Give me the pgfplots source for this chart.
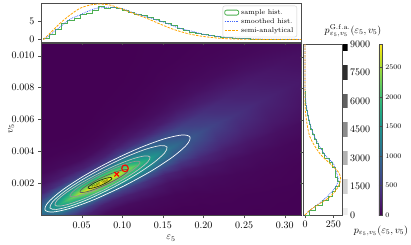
\documentclass[border=0pt]{standalone}
\usepackage{pgfplots}
\usepackage{pgfplotstable}
\pgfplotsset{compat=1.18}
\definecolor{vir0}{rgb}{0.267,0.005,0.329}
\definecolor{hgreen}{RGB}{76,175,80}
\definecolor{hblue}{RGB}{70,105,250}
\definecolor{horange}{RGB}{255,165,0}
\pgfplotsset{every axis/.append style={axis line style={black!70}, tick style={black!70}},
  boxlegend/.style={legend image code/.code={\draw[##1] (0pt,-2.5pt) rectangle (14pt,2.5pt);}},
  linelegend/.style={legend image code/.code={\draw[##1] (0pt,0pt) -- (14pt,0pt);}}}
\pgfplotstableread{
x y z c
-0.09412 0.003486 0 0
-0.08182 0.002256 0 2
-0.07260 0.001334 0 7.5
-0.06522 0.000596 0 22.5
-0.06030 0.000104 0 50
-0.05661 -0.000265 0 100
-0.05353 -0.000573 0 165
-0.04800 -0.001126 0 250
-0.04247 -0.001679 0 165
-0.03939 -0.001987 0 100
-0.03570 -0.002356 0 50
-0.03078 -0.002848 0 22.5
-0.02340 -0.003586 0 7.5
-0.01418 -0.004508 0 2
-0.00188 -0.005738 0 0
-0.06253 0.003779 0 0
-0.05135 0.002661 0 4.8
-0.04296 0.001822 0 18
-0.03625 0.001151 0 54
-0.03178 0.000704 0 120
-0.02843 0.000369 0 240
-0.02563 0.000089 0 396
-0.02060 -0.000414 0 600
-0.01557 -0.000917 0 396
-0.01277 -0.001197 0 240
-0.00942 -0.001532 0 120
-0.00495 -0.001979 0 54
0.00176 -0.002650 0 18
0.01015 -0.003489 0 4.8
0.02133 -0.004607 0 0
-0.04069 0.004082 0 0
-0.03007 0.003020 0 8
-0.02210 0.002223 0 30
-0.01573 0.001586 0 90
-0.01148 0.001161 0 200
-0.00830 0.000843 0 400
-0.00564 0.000577 0 660
-0.00086 0.000099 0 1000
0.00392 -0.000379 0 660
0.00658 -0.000645 0 400
0.00976 -0.000963 0 200
0.01401 -0.001388 0 90
0.02038 -0.002025 0 30
0.02835 -0.002822 0 8
0.03897 -0.003884 0 0
-0.01995 0.004357 0 0
-0.00989 0.003351 0 12.8
-0.00234 0.002596 0 48
0.00369 0.001993 0 144
0.00772 0.001590 0 320
0.01074 0.001288 0 640
0.01325 0.001037 0 1056
0.01778 0.000584 0 1600
0.02231 0.000131 0 1056
0.02482 -0.000120 0 640
0.02784 -0.000422 0 320
0.03187 -0.000825 0 144
0.03790 -0.001428 0 48
0.04545 -0.002183 0 12.8
0.05551 -0.003189 0 0
-0.00141 0.004576 0 0
0.00810 0.003625 0 17.2
0.01522 0.002913 0 64.5
0.02092 0.002343 0 193.5
0.02473 0.001962 0 430
0.02758 0.001677 0 860
0.02995 0.001440 0 1419
0.03423 0.001012 0 2150
0.03851 0.000584 0 1419
0.04088 0.000347 0 860
0.04373 0.000062 0 430
0.04754 -0.000319 0 193.5
0.05324 -0.000889 0 64.5
0.06036 -0.001601 0 17.2
0.06987 -0.002552 0 0
0.01714 0.004793 0 0
0.02608 0.003899 0 20.8
0.03279 0.003228 0 78
0.03816 0.002691 0 234
0.04174 0.002333 0 520
0.04442 0.002065 0 1040
0.04666 0.001841 0 1716
0.05068 0.001439 0 2600
0.05470 0.001037 0 1716
0.05694 0.000813 0 1040
0.05962 0.000545 0 520
0.06320 0.000187 0 234
0.06857 -0.000350 0 78
0.07528 -0.001021 0 20.8
0.08422 -0.001915 0 0
0.03239 0.004926 0 0
0.04078 0.004087 0 22.8
0.04707 0.003458 0 85.5
0.05210 0.002955 0 256.5
0.05545 0.002620 0 570
0.05797 0.002368 0 1140
0.06007 0.002158 0 1881
0.06384 0.001781 0 2850
0.06761 0.001404 0 1881
0.06971 0.001194 0 1140
0.07223 0.000942 0 570
0.07558 0.000607 0 256.5
0.08061 0.000104 0 85.5
0.08690 -0.000525 0 22.8
0.09529 -0.001364 0 0
0.04555 0.005269 0 0
0.05394 0.004430 0 23.2
0.06023 0.003801 0 87
0.06526 0.003298 0 261
0.06861 0.002963 0 580
0.07113 0.002711 0 1160
0.07323 0.002501 0 1914
0.07700 0.002124 0 2900
0.08077 0.001747 0 1914
0.08287 0.001537 0 1160
0.08539 0.001285 0 580
0.08874 0.000950 0 261
0.09377 0.000447 0 87
0.10006 -0.000182 0 23.2
0.10845 -0.001021 0 0
0.05663 0.005819 0 0
0.06557 0.004925 0 22
0.07228 0.004254 0 82.5
0.07765 0.003717 0 247.5
0.08123 0.003359 0 550
0.08391 0.003091 0 1100
0.08615 0.002867 0 1815
0.09017 0.002465 0 2750
0.09419 0.002063 0 1815
0.09643 0.001839 0 1100
0.09911 0.001571 0 550
0.10269 0.001213 0 247.5
0.10806 0.000676 0 82.5
0.11477 0.000005 0 22
0.12371 -0.000889 0 0
0.06778 0.006637 0 0
0.07784 0.005631 0 19.2
0.08539 0.004876 0 72
0.09142 0.004273 0 216
0.09545 0.003870 0 480
0.09847 0.003568 0 960
0.10098 0.003317 0 1584
0.10551 0.002864 0 2400
0.11004 0.002411 0 1584
0.11255 0.002160 0 960
0.11557 0.001858 0 480
0.11960 0.001455 0 216
0.12563 0.000852 0 72
0.13318 0.000097 0 19.2
0.14324 -0.000909 0 0
0.08004 0.007485 0 0
0.09122 0.006367 0 15.6
0.09961 0.005528 0 58.5
0.10632 0.004857 0 175.5
0.11079 0.004410 0 390
0.11414 0.004075 0 780
0.11694 0.003795 0 1287
0.12197 0.003292 0 1950
0.12700 0.002789 0 1287
0.12980 0.002509 0 780
0.13315 0.002174 0 390
0.13762 0.001727 0 175.5
0.14433 0.001056 0 58.5
0.15272 0.000217 0 15.6
0.16390 -0.000901 0 0
0.09448 0.008389 0 0
0.10678 0.007159 0 11.6
0.11600 0.006237 0 43.5
0.12338 0.005499 0 130.5
0.12830 0.005007 0 290
0.13199 0.004638 0 580
0.13507 0.004330 0 957
0.14060 0.003777 0 1450
0.14613 0.003224 0 957
0.14921 0.002916 0 580
0.15290 0.002547 0 290
0.15782 0.002055 0 130.5
0.16520 0.001317 0 43.5
0.17442 0.000395 0 11.6
0.18672 -0.000835 0 0
0.10584 0.009740 0 0
0.12037 0.008287 0 8.4
0.13127 0.007197 0 31.5
0.13999 0.006325 0 94.5
0.14581 0.005743 0 210
0.15017 0.005307 0 420
0.15380 0.004944 0 693
0.16034 0.004290 0 1050
0.16688 0.003636 0 693
0.17051 0.003273 0 420
0.17487 0.002837 0 210
0.18069 0.002255 0 94.5
0.18941 0.001383 0 31.5
0.20031 0.000293 0 8.4
0.21484 -0.001160 0 0
0.11520 0.011568 0 0
0.13309 0.009779 0 6.4
0.14650 0.008438 0 24
0.15724 0.007364 0 72
0.16439 0.006649 0 160
0.16976 0.006112 0 320
0.17423 0.005665 0 528
0.18228 0.004860 0 800
0.19033 0.004055 0 528
0.19480 0.003608 0 320
0.20017 0.003071 0 160
0.20732 0.002356 0 72
0.21806 0.001282 0 24
0.23147 -0.000059 0 6.4
0.24936 -0.001848 0 0
0.13004 0.013539 0 0
0.15128 0.011415 0 4.6
0.16722 0.009821 0 17.4
0.17996 0.008547 0 52.2
0.18846 0.007697 0 116
0.19483 0.007060 0 232
0.20014 0.006529 0 383
0.20970 0.005573 0 580
0.21926 0.004617 0 383
0.22457 0.004086 0 232
0.23094 0.003449 0 116
0.23944 0.002599 0 52.2
0.25218 0.001325 0 17.4
0.26812 -0.000269 0 4.6
0.28936 -0.002393 0 0
0.14487 0.015509 0 0
0.16947 0.013049 0 3.4
0.18792 0.011204 0 12.6
0.20268 0.009728 0 37.8
0.21251 0.008745 0 84
0.21989 0.008007 0 168
0.22604 0.007392 0 277
0.23711 0.006285 0 420
0.24818 0.005178 0 277
0.25433 0.004563 0 168
0.26171 0.003825 0 84
0.27154 0.002842 0 37.8
0.28630 0.001366 0 12.6
0.30475 -0.000479 0 3.4
0.32935 -0.002939 0 0
0.16519 0.017622 0 0
0.19314 0.014827 0 2.4
0.21410 0.012731 0 9
0.23087 0.011054 0 27
0.24205 0.009936 0 60
0.25043 0.009098 0 120
0.25742 0.008399 0 198
0.27000 0.007141 0 300
0.28258 0.005883 0 198
0.28957 0.005184 0 120
0.29795 0.004346 0 60
0.30913 0.003228 0 27
0.32590 0.001551 0 9
0.34686 -0.000545 0 2.4
0.37481 -0.003340 0 0
0.19100 0.019877 0 0
0.22230 0.016747 0 1.6
0.24578 0.014399 0 6
0.26456 0.012521 0 18
0.27709 0.011268 0 40
0.28648 0.010329 0 80
0.29430 0.009547 0 132
0.30839 0.008138 0 200
0.32248 0.006729 0 132
0.33030 0.005947 0 80
0.33969 0.005008 0 40
0.35222 0.003755 0 18
0.37100 0.001877 0 6
0.39448 -0.000471 0 1.6
0.42578 -0.003601 0 0
0.22647 0.021857 0 0
0.26001 0.018503 0 1
0.28517 0.015987 0 3.6
0.30529 0.013975 0 10.8
0.31871 0.012633 0 24
0.32877 0.011627 0 48
0.33716 0.010788 0 79
0.35225 0.009279 0 120
0.36734 0.007770 0 79
0.37573 0.006931 0 48
0.38579 0.005925 0 24
0.39921 0.004583 0 10.8
0.41933 0.002571 0 3.6
0.44449 0.000055 0 1
0.47803 -0.003299 0 0
}\heat
\begin{document}
\begin{tikzpicture}
\useasboundingbox (0pt,0pt) rectangle (411pt,244pt);
% ---------------- main heat map ----------------
\begin{axis}[name=main, at={(41pt,29pt)}, anchor=south west, scale only axis,
  width=260pt, height=172pt, xmin=0, xmax=0.32, ymin=0, ymax=0.0108, zmin=-1, zmax=1,
  view={0}{90}, axis on top, axis background/.style={fill=vir0},
  colormap/viridis, point meta min=0, point meta max=2900,
  scaled x ticks=false, scaled y ticks=false,
  xtick={0.05,0.1,0.15,0.2,0.25,0.3}, xticklabels={0.05,0.10,0.15,0.20,0.25,0.30},
  ytick={0.002,0.004,0.006,0.008,0.010}, yticklabels={0.002,0.004,0.006,0.008,0.010},
  tick align=outside, tick pos=left, major tick length=3pt,
  xlabel={$\varepsilon_5$}, ylabel={$v_5$},
  ylabel style={at={(axis description cs:-0.115,0.5)}, anchor=center},
  colorbar, colorbar style={at={(parent axis.south east)}, anchor=south west, xshift=69.3pt,
    scale only axis, width=3pt, height=171pt, ytick={0,500,1000,1500,2000,2500},
    yticklabel style={font=\fontsize{7}{8}\selectfont, /pgf/number format/1000 sep={}},
    major tick length=2pt, axis line style={black!70}},
]
\addplot3[surf, shader=interp, point meta=explicit, mesh/rows=19, mesh/cols=15] table[x=x, y=y, z=z, meta=c] {\heat};
% contours (G.f.a.)
\addplot[white, line width=0.7pt, smooth] coordinates {
(0.1019,0.001821) (0.0671,0.001003) (0.03654,0.000430) (0.01467,0.000187) (0.00492,0.000314) (0.00874,0.000789) (0.02559,0.001540) (0.05281,0.002453) (0.08640,0.003391) (0.12117,0.004209) (0.15177,0.004782) (0.17364,0.005025) (0.18338,0.004898) (0.17957,0.004423) (0.16272,0.003671) (0.13550,0.002758) (0.1019,0.001821) (0.0671,0.001003)};
\addplot[black!8, line width=0.7pt, smooth] coordinates {
(0.08934,0.001742) (0.06128,0.001056) (0.03660,0.000568) (0.01895,0.000351) (0.01108,0.000440) (0.01415,0.000819) (0.02774,0.001433) (0.04971,0.002187) (0.07681,0.002967) (0.10487,0.003654) (0.12955,0.004141) (0.14720,0.004358) (0.15508,0.004270) (0.15200,0.003890) (0.13841,0.003276) (0.11644,0.002522) (0.08934,0.001742) (0.06128,0.001056)};
\addplot[black!25, line width=0.7pt, smooth] coordinates {
(0.08041,0.001658) (0.05766,0.001118) (0.03770,0.000732) (0.02348,0.000559) (0.01723,0.000628) (0.01986,0.000925) (0.03103,0.001407) (0.04895,0.001998) (0.07098,0.002611) (0.09372,0.003152) (0.11369,0.003538) (0.12790,0.003710) (0.13415,0.003642) (0.13152,0.003345) (0.12036,0.002863) (0.10244,0.002272) (0.08041,0.001658) (0.05766,0.001118)};
\addplot[black!42, line width=0.7pt, smooth] coordinates {
(0.08199,0.001921) (0.06524,0.001538) (0.05058,0.001266) (0.04020,0.001144) (0.03569,0.001193) (0.03774,0.001404) (0.04603,0.001746) (0.05929,0.002165) (0.07554,0.002600) (0.09230,0.002983) (0.10695,0.003255) (0.11734,0.003377) (0.12185,0.003328) (0.11980,0.003117) (0.11151,0.002775) (0.09825,0.002356) (0.08199,0.001921) (0.06524,0.001538)};
\addplot[black!62, line width=0.7pt, smooth] coordinates {
(0.07959,0.001906) (0.06812,0.001660) (0.05810,0.001485) (0.05103,0.001410) (0.04800,0.001444) (0.04945,0.001584) (0.05520,0.001808) (0.06433,0.002082) (0.07548,0.002363) (0.08695,0.002610) (0.09697,0.002785) (0.10405,0.002860) (0.10708,0.002826) (0.10562,0.002686) (0.09988,0.002462) (0.09075,0.002188) (0.07959,0.001906) (0.06812,0.001660)};
\addplot[black!90, line width=0.6pt, smooth] coordinates {
(0.07380,0.001864) (0.06805,0.001755) (0.06302,0.001685) (0.05942,0.001664) (0.05785,0.001695) (0.05851,0.001774) (0.06134,0.001889) (0.06586,0.002022) (0.07143,0.002154) (0.07718,0.002264) (0.08222,0.002334) (0.08581,0.002355) (0.08738,0.002323) (0.08672,0.002244) (0.08389,0.002129) (0.07937,0.001996) (0.07380,0.001864) (0.06805,0.001755)};
\node[rotate=22, font=\fontsize{3.5}{4}\selectfont, inner sep=0pt, text=black] at (axis cs:0.0726,0.00197,0) {7500.000};
% markers
\addplot[only marks, mark=x, mark size=3.2pt, red, line width=1.1pt] coordinates {(0.0932,0.00256)};
\addplot[only marks, mark=o, mark size=3.3pt, red, line width=1.1pt] coordinates {(0.1034,0.00293)};
\end{axis}
% ---------------- top marginal ----------------
\begin{axis}[at={(41pt,202pt)}, anchor=south west, scale only axis,
  width=260pt, height=39pt, xmin=0, xmax=0.32, ymin=-0.7, ymax=10.15,
  xtick={0.05,0.1,0.15,0.2,0.25,0.3}, xticklabels=\empty, ytick={0,5},
  tick align=outside, tick pos=left, major tick length=3pt,
  legend style={at={(0.985,0.93)}, anchor=north east, font=\fontsize{7}{8}\selectfont,
    draw=black!20, rounded corners=2pt, fill=white, fill opacity=0.85, text opacity=1,
    inner sep=1.5pt, row sep=-1.5pt, legend cell align=left},
]
\addplot[const plot, hgreen, line width=0.8pt, boxlegend] coordinates {
(0.003,0) (0.003,0.3) (0.0105,1.5) (0.018,2.8) (0.0255,4.6) (0.033,5.3) (0.0405,6.0) (0.048,7.0) (0.0555,7.2) (0.063,8.0) (0.0705,9.2) (0.078,8.6) (0.0855,8.8) (0.093,8.7) (0.1005,8.0) (0.108,7.6) (0.1155,6.9) (0.123,6.7) (0.1305,6.1) (0.138,5.6) (0.1455,5.1) (0.153,4.4) (0.1605,3.8) (0.168,3.2) (0.1755,2.6) (0.183,2.1) (0.1905,1.8) (0.198,1.4) (0.2055,1.1) (0.213,0.8) (0.2205,0.6) (0.228,0.45) (0.2355,0.35) (0.243,0.25) (0.2505,0.2) (0.258,0.15) (0.2655,0.1) (0.273,0.08) (0.2805,0.05) (0.288,0.03) (0.2955,0.02) (0.303,0.01) (0.3105,0.01) (0.318,0.01)};
\addlegendentry{sample hist.}
\addplot[hblue, densely dotted, line width=0.8pt, smooth, linelegend] coordinates {
(0.003,0) (0.011,1.25) (0.0213,3.1) (0.0316,4.95) (0.0378,5.9) (0.048,6.8) (0.0562,7.7) (0.0686,8.7) (0.0849,8.95) (0.0972,8.7) (0.1055,8.2) (0.1136,7.4) (0.130,6.3) (0.1424,5.4) (0.1547,4.5) (0.171,3.1) (0.1875,2.2) (0.204,1.25) (0.2285,0.6) (0.253,0.2) (0.28,0.07) (0.32,0.02)};
\addlegendentry{smoothed hist.}
\addplot[horange, dash pattern=on 2.5pt off 1.2pt, line width=0.8pt, smooth, linelegend] coordinates {
(0.003,0) (0.011,1.72) (0.0234,4.5) (0.0357,6.8) (0.048,8.67) (0.0603,9.58) (0.0726,9.86) (0.0849,9.58) (0.0972,8.67) (0.1136,7.28) (0.130,5.9) (0.1465,4.3) (0.1628,2.83) (0.1793,1.72) (0.1957,0.97) (0.2162,0.42) (0.2367,0.14) (0.27,0.02) (0.32,0)};
\addlegendentry{semi-analytical}
\end{axis}
% ---------------- right marginal ----------------
\begin{axis}[at={(303pt,29pt)}, anchor=south west, scale only axis,
  width=39pt, height=171pt, xmin=-18, xmax=327, ymin=0, ymax=0.0108,
  xtick={0,250}, ytick={0.002,0.004,0.006,0.008,0.010}, yticklabels=\empty,
  scaled y ticks=false, tick align=outside, tick pos=left, major tick length=3pt,
]
\addplot[hgreen, line width=0.8pt] coordinates {
(0,0) (35,0) (35,0.0003) (95,0.0003) (95,0.0006) (150,0.0006) (150,0.0009) (210,0.0009) (210,0.0012) (240,0.0012) (240,0.0015) (270,0.0015) (270,0.0018) (305,0.0018) (305,0.0021) (285,0.0021) (285,0.0024) (265,0.0024) (265,0.0027) (270,0.0027) (270,0.0030) (240,0.0030) (240,0.0033) (215,0.0033) (215,0.0036) (175,0.0036) (175,0.0039) (150,0.0039) (150,0.0042) (118,0.0042) (118,0.0045) (100,0.0045) (100,0.0048) (80,0.0048) (80,0.0051) (62,0.0051) (62,0.0054) (50,0.0054) (50,0.0057) (38,0.0057) (38,0.0060) (28,0.0060) (28,0.0063) (18,0.0063) (18,0.0066) (11,0.0066) (11,0.0069) (6,0.0069) (6,0.0072) (3,0.0072) (3,0.0075) (1,0.0075) (1,0.0078) (0,0.0078)};
\addplot[hblue, densely dotted, line width=0.8pt, smooth] coordinates {
(0,0) (29,0.00021) (103,0.00063) (162,0.00094) (250,0.00157) (280,0.0019) (294,0.0022) (278,0.0027) (250,0.00325) (192,0.00366) (132,0.00429) (73,0.00513) (29,0.00617) (3,0.00743) (0,0.0084) (0,0.0108)};
\addplot[horange, dash pattern=on 2.5pt off 1.2pt, line width=0.8pt, smooth] coordinates {
(0,0) (44,0.00031) (132,0.00073) (221,0.00115) (294,0.00178) (315,0.0023) (294,0.00272) (221,0.00325) (132,0.00387) (44,0.00492) (9,0.00617) (0,0.0072) (0,0.0108)};
\end{axis}
% ---------------- G.f.a. colour bar ----------------
\begin{axis}[at={(342.5pt,29pt)}, anchor=south west, scale only axis,
  width=5pt, height=171pt, xmin=0, xmax=1, ymin=0, ymax=9000,
  xtick=\empty, ytick={0,1500,3000,4500,6000,7500,9000}, ytick pos=right,
  yticklabel pos=right, scaled y ticks=false,
  yticklabel style={/pgf/number format/1000 sep={}, xshift=-1pt},
  major tick length=0pt, axis line style={draw=none},
]
\addplot[fill=black!7, draw=none] coordinates {(0,0) (1,0) (1,390) (0,390)};
\addplot[fill=black!18, draw=none] coordinates {(0,1110) (1,1110) (1,1890) (0,1890)};
\addplot[fill=black!30, draw=none] coordinates {(0,2610) (1,2610) (1,3390) (0,3390)};
\addplot[fill=black!45, draw=none] coordinates {(0,4110) (1,4110) (1,4890) (0,4890)};
\addplot[fill=black!62, draw=none] coordinates {(0,5610) (1,5610) (1,6390) (0,6390)};
\addplot[fill=black!82, draw=none] coordinates {(0,7110) (1,7110) (1,7890) (0,7890)};
\addplot[fill=black, draw=none] coordinates {(0,8610) (1,8610) (1,9000) (0,9000)};
\end{axis}
\node at (381pt,13pt) {$p_{\varepsilon_5,v_5}(\varepsilon_5,v_5)$};
\node at (353pt,213pt) {$p^{\mathrm{G.f.a.}}_{\varepsilon_5,v_5}(\varepsilon_5,v_5)$};
\end{tikzpicture}
\end{document}
